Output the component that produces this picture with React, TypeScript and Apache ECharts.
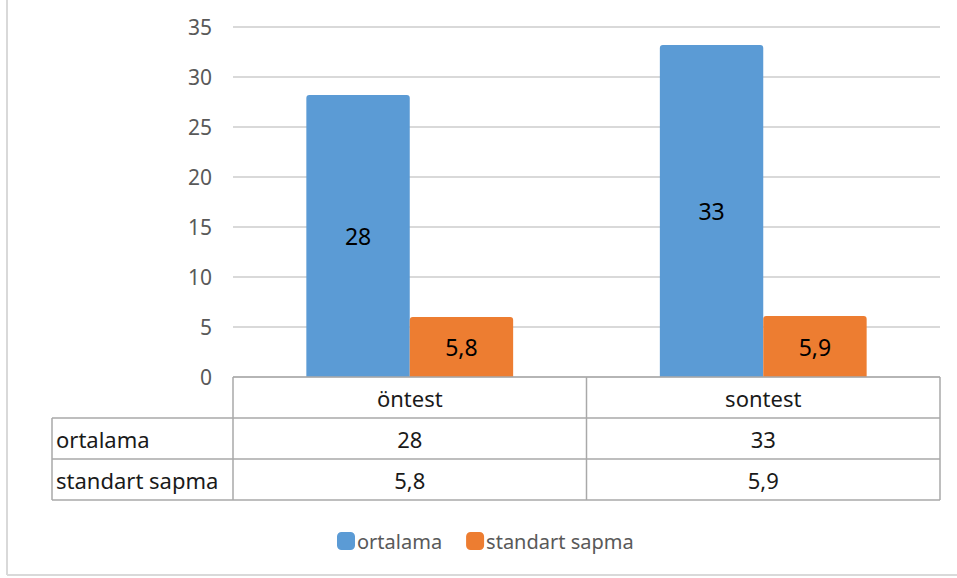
import React, { useEffect, useRef } from "react";
import * as echarts from "echarts";

const categories = ["öntest", "sontest"];
const seriesNames = ["ortalama", "standart sapma"];
const ortalama = [28.2, 33.2];
const standartSapma = [6.0, 6.1];
const ortalamaLabels = ["28", "33"];
const sapmaLabels = ["5,8", "5,9"];
const yMin = 0;
const yMax = 35;
const yInterval = 5;

const W = 957;
const H = 578;
const G_LEFT = 233;
const G_RIGHT = 17;
const G_TOP = 27;
const G_BOTTOM = 201;
const ROW_H = 41;
const LABEL_COL_LEFT = 52;
const FONT = "'Noto Sans', 'Open Sans', sans-serif";
const BLUE = "#5b9bd5";
const ORANGE = "#ed7d31";
const TABLE_LINE = "#a9a9a9";

export default function App() {
  const ref = useRef<HTMLDivElement>(null);
  useEffect(() => {
    if (!ref.current) return;
    const chart = echarts.init(ref.current, undefined, { renderer: "svg" });

    const plotRight = W - G_RIGHT;
    const axisY = H - G_BOTTOM;
    const catW = (plotRight - G_LEFT) / categories.length;
    const tableBottom = axisY + ROW_H * 3;
    const lineStyle = { stroke: TABLE_LINE, lineWidth: 1.5 };
    const graphics: any[] = [];
    // outer frame
    graphics.push({ type: "line", shape: { x1: 7, y1: 0, x2: 7, y2: 575 }, style: { stroke: "#d9d9d9", lineWidth: 2 }, silent: true });
    graphics.push({ type: "line", shape: { x1: 7, y1: 575, x2: W, y2: 575 }, style: { stroke: "#d9d9d9", lineWidth: 2 }, silent: true });
    // table horizontal lines
    graphics.push({ type: "line", shape: { x1: G_LEFT, y1: axisY, x2: plotRight, y2: axisY }, style: lineStyle, z: 10 });
    for (let r = 1; r <= 3; r++) {
      const y = axisY + ROW_H * r;
      graphics.push({ type: "line", shape: { x1: LABEL_COL_LEFT, y1: y, x2: plotRight, y2: y }, style: lineStyle, z: 10 });
    }
    // verticals
    graphics.push({ type: "line", shape: { x1: LABEL_COL_LEFT, y1: axisY + ROW_H, x2: LABEL_COL_LEFT, y2: tableBottom }, style: lineStyle, z: 10 });
    for (let c = 0; c <= categories.length; c++) {
      const x = G_LEFT + catW * c;
      graphics.push({ type: "line", shape: { x1: x, y1: axisY, x2: x, y2: tableBottom }, style: lineStyle, z: 10 });
    }
    const cellText = (text: string, x: number, y: number, align: string) => ({
      type: "text",
      x,
      y,
      style: { text, fill: "#1a1a1a", font: `22px ${FONT}`, align, verticalAlign: "middle" },
      z: 10,
    });
    categories.forEach((c, i) => {
      const cx = G_LEFT + catW * (i + 0.5);
      graphics.push(cellText(c, cx, axisY + ROW_H * 0.5, "center"));
      graphics.push(cellText(ortalamaLabels[i], cx, axisY + ROW_H * 1.5, "center"));
      graphics.push(cellText(sapmaLabels[i], cx, axisY + ROW_H * 2.5, "center"));
    });
    graphics.push(cellText(seriesNames[0], LABEL_COL_LEFT + 4, axisY + ROW_H * 1.5, "left"));
    graphics.push(cellText(seriesNames[1], LABEL_COL_LEFT + 4, axisY + ROW_H * 2.5, "left"));

    chart.setOption({
      animation: false,
      backgroundColor: "#ffffff",
      grid: { left: G_LEFT, right: G_RIGHT, top: G_TOP, bottom: G_BOTTOM, containLabel: false },
      legend: {
        data: seriesNames,
        left: 332,
        top: 526,
        itemWidth: 18,
        itemHeight: 18,
        itemGap: 24,
        icon: "roundRect",
        textStyle: { color: "#595959", fontSize: 20, fontFamily: FONT, padding: [0, 0, 0, -3] },
      },
      xAxis: {
        type: "category",
        data: categories,
        axisLine: { show: false },
        axisTick: { show: false },
        axisLabel: { show: false },
      },
      yAxis: {
        type: "value",
        min: yMin,
        max: yMax,
        interval: yInterval,
        axisLine: { show: false },
        axisTick: { show: false },
        axisLabel: { color: "#595959", fontSize: 21, fontFamily: FONT, margin: 21 },
        splitLine: { lineStyle: { color: "#d9d9d9", width: 2 } },
      },
      series: [
        {
          name: seriesNames[0],
          type: "bar",
          data: ortalama,
          barGap: "0%",
          barCategoryGap: "41.5%",
          itemStyle: { color: BLUE, borderRadius: [3, 3, 0, 0] },
          label: {
            show: true,
            position: "inside",
            color: "#000000",
            fontSize: 23,
            fontFamily: FONT,
            formatter: (p: any) => ortalamaLabels[p.dataIndex],
          },
        },
        {
          name: seriesNames[1],
          type: "bar",
          data: standartSapma,
          itemStyle: { color: ORANGE, borderRadius: [3, 3, 0, 0] },
          label: {
            show: true,
            position: "inside",
            color: "#000000",
            fontSize: 23,
            fontFamily: FONT,
            formatter: (p: any) => sapmaLabels[p.dataIndex],
          },
        },
      ],
      graphic: graphics,
    });
    return () => chart.dispose();
  }, []);
  return (
    <div
      ref={ref}
      style={{ position: "absolute", left: 0, top: 0, width: W, height: H, background: "#fff" }}
    />
  );
}
